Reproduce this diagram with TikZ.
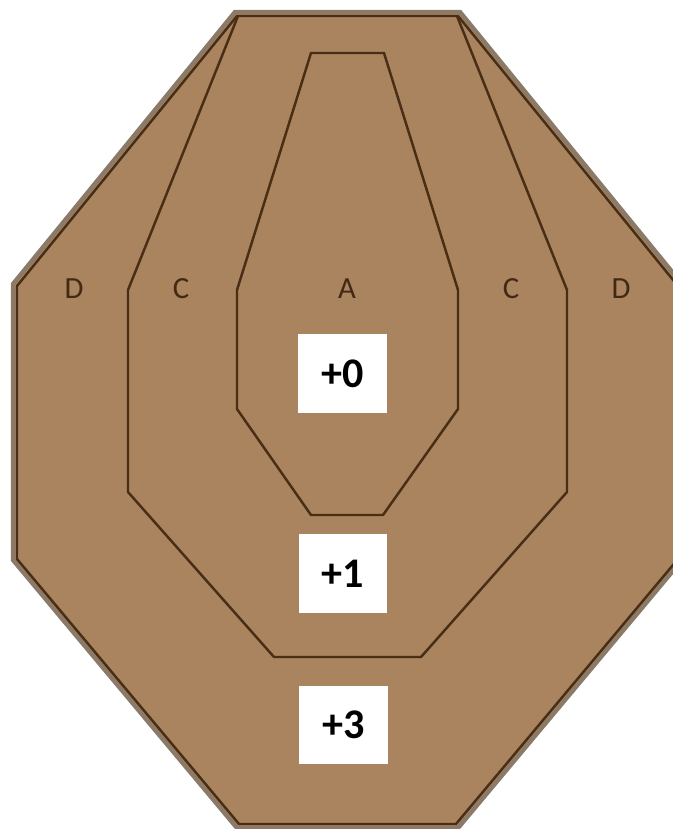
\documentclass[tikz,border=0pt]{standalone}
\usepackage{fontspec}
\setmainfont{Carlito}
\usepackage{tikz}
\usetikzlibrary{positioning}

\definecolor{tan}{RGB}{170,131,95}
\definecolor{rim}{RGB}{140,122,104}
\definecolor{edge}{RGB}{72,46,20}

\begin{document}
\begin{tikzpicture}[x=0.02cm, y=-0.02cm,
    zone/.style={draw=edge, line width=1.4pt, line join=miter},
    zonelabel/.style={text=edge!90!black, font=\fontsize{17.5}{17.5}\selectfont},
    score/.style={fill=white, minimum width=50.5pt, minimum height=44.8pt, inner sep=0pt, font=\fontsize{24}{24}\selectfont\bfseries}]
    \useasboundingbox (0,0) rectangle (673,829);
    \clip (0,0) rectangle (673,829);

    % outer D zone
    \fill[tan, draw=rim, line width=2.5pt] (235,12) -- (460,12) -- (682,284) -- (682,560) -- (458,828) -- (237,828) -- (13,560) -- (13,284) -- cycle;
    \draw[zone] (237,16) -- (458,16) -- (678,286) -- (678,559) -- (456,824) -- (239,824) -- (17,559) -- (17,286) -- cycle;

    % C zone
    \draw[zone] (238,16) -- (128,290) -- (128,492) -- (274,657) -- (421,657) -- (567,492) -- (567,290) -- (457,16);

    % A zone
    \draw[zone] (311,53) -- (384,53) -- (458,290) -- (458,409) -- (383,515) -- (311,515) -- (237,409) -- (237,290) -- cycle;

    % zone letters
    \node[zonelabel] (dl) at (74,289) {D};
    \node[zonelabel] (cl) at (181,289) {C};
    \node[zonelabel] (a) at (347,289) {A};
    \node[zonelabel] (cr) at (511,289) {C};
    \node[zonelabel] (dr) at (621,289) {D};

    % penalty boxes
    \node[score] (p0) at (342.5,373.5) {+0};
    \node[score] (p1) at (343,573.5) {+1};
    \node[score] (p3) at (343.5,725) {+3};
\end{tikzpicture}
\end{document}
